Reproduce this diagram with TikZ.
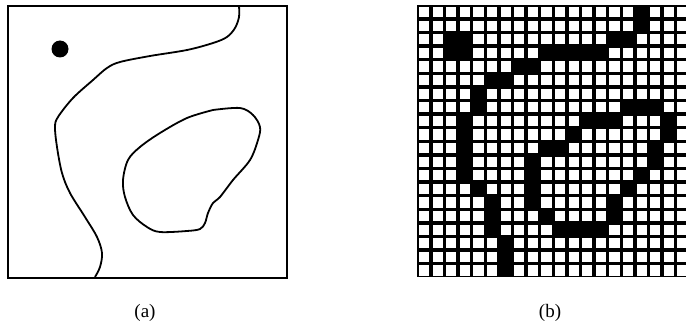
\documentclass[tikz,border=0pt]{standalone}
\usepackage{fontspec}
\setmainfont{Liberation Serif}
\usetikzlibrary{calc}

\begin{document}
\begin{tikzpicture}[x=1pt, y=-1pt,
  frame/.style={line width=1.6pt},
  curve/.style={line width=1.8pt, smooth, tension=0.55},
  cellw/.style={fill=white},
  cellb/.style={fill=black},
  caption/.style={font=\fontsize{19}{22}\selectfont}]
  \useasboundingbox (0,0) rectangle (686,326);

  % Panel (a): the region with its boundary
  \draw[frame] (8,6) rectangle (287,278);
  \fill (60,49) circle (8.5);
  \draw[curve] plot coordinates {(239,6) (239,17) (235,28) (227,37) (213,43)
    (187,50) (150,56) (120,62) (107,68) (93,80) (73,98) (58,117) (55,127)
    (57,147) (62,173) (70,193) (85,217) (97,237) (102,253) (100,267) (95,277)};
  \draw[curve] plot coordinates {(213,110) (240,108) (253,115) (260,127)
    (258,140) (250,160) (233,180) (220,197) (213,203) (208,213) (205,223)
    (200,229) (187,231) (160,232) (147,227) (133,215) (125,197) (123,180)
    (128,160) (140,147) (160,133) (187,118) (213,110)};
  \node[caption] (capa) at (145,313) {(a)};

  % Panel (b): the same region on a 20 x 20 grid
  \begin{scope}
    \clip (0,0) rectangle (686,326);
    \fill (417,5) rectangle ++(272,272);
    \foreach \r in {0,...,19}
      \foreach \c in {0,...,19}
        \fill[cellw] (417+13.6*\c+2,5+13.6*\r+2) rectangle ++(10.2,10.2);
    % Black cells
    \foreach \r/\c in {0/16, 1/16, 2/2, 2/3, 2/14, 2/15,
        3/2, 3/3, 3/9, 3/10, 3/11, 3/12, 3/13, 4/7, 4/8, 5/5, 5/6,
        6/4, 7/4, 7/15, 7/16, 7/17, 8/3, 8/12, 8/13, 8/14, 8/18,
        9/3, 9/11, 9/18, 10/3, 10/9, 10/10, 10/17, 11/3, 11/8, 11/17,
        12/3, 12/8, 12/16, 13/4, 13/8, 13/15, 14/5, 14/8, 14/14,
        15/5, 15/9, 15/14, 16/5, 16/10, 16/11, 16/12, 16/13,
        17/6, 18/6, 19/6}
      \fill[cellb] (417+13.6*\c,5+13.6*\r) rectangle ++(13.6,13.6);
  \end{scope}
  \node[caption] (capb) at (550,313) {(b)};
\end{tikzpicture}
\end{document}
